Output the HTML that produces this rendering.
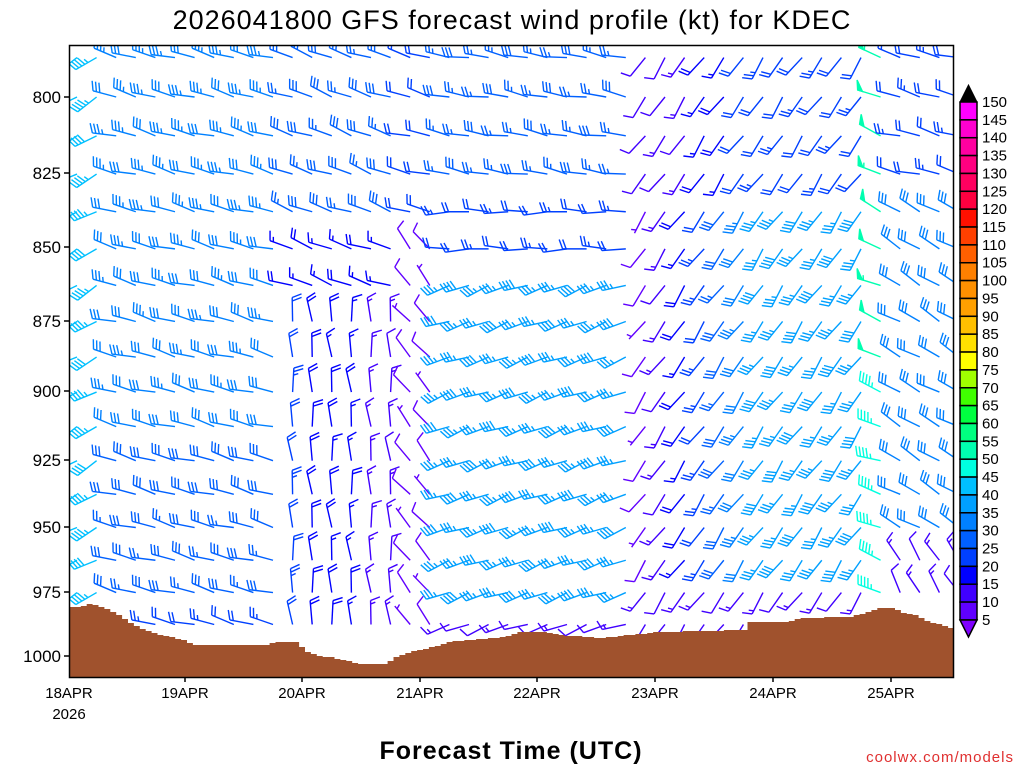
<!DOCTYPE html>
<html><head><meta charset="utf-8"><style>
html,body{margin:0;padding:0;background:#fff;}
svg{display:block;font-family:"Liberation Sans",sans-serif;}
</style></head><body>
<svg id="s" width="1024" height="768" viewBox="0 0 1024 768" xmlns="http://www.w3.org/2000/svg">
<defs><clipPath id="cl"><rect x="69" y="45" width="884" height="632"/></clipPath></defs>
<rect width="1024" height="768" fill="#fff"/>
<text x="512" y="29" font-size="27" text-anchor="middle" fill="#000" letter-spacing="1">2026041800 GFS forecast wind profile (kt) for KDEC</text>
<g id="plot" clip-path="url(#cl)"></g>
<g id="terrain"></g>
<rect x="69.5" y="45.5" width="884" height="632" fill="none" stroke="#000" stroke-width="1.5"/>
<g font-size="17" text-anchor="end" fill="#000">
<text x="61" y="103">800</text><text x="61" y="179">825</text><text x="61" y="253">850</text>
<text x="61" y="327">875</text><text x="61" y="397">900</text><text x="61" y="466">925</text>
<text x="61" y="533">950</text><text x="61" y="598">975</text><text x="61" y="662">1000</text>
</g>
<g stroke="#000" stroke-width="1.5">
<line x1="64" y1="97" x2="69" y2="97"/><line x1="64" y1="173" x2="69" y2="173"/><line x1="64" y1="247" x2="69" y2="247"/>
<line x1="64" y1="321" x2="69" y2="321"/><line x1="64" y1="391" x2="69" y2="391"/><line x1="64" y1="460" x2="69" y2="460"/>
<line x1="64" y1="527" x2="69" y2="527"/><line x1="64" y1="592" x2="69" y2="592"/><line x1="64" y1="656" x2="69" y2="656"/>
<line x1="185" y1="677" x2="185" y2="682"/><line x1="302" y1="677" x2="302" y2="682"/><line x1="420" y1="677" x2="420" y2="682"/>
<line x1="537" y1="677" x2="537" y2="682"/><line x1="655" y1="677" x2="655" y2="682"/><line x1="773" y1="677" x2="773" y2="682"/><line x1="891" y1="677" x2="891" y2="682"/>
</g>
<g font-size="15" text-anchor="middle" fill="#000">
<text x="69" y="698">18APR</text><text x="69" y="719">2026</text>
<text x="185" y="698">19APR</text><text x="302" y="698">20APR</text><text x="420" y="698">21APR</text>
<text x="537" y="698">22APR</text><text x="655" y="698">23APR</text><text x="773" y="698">24APR</text><text x="891" y="698">25APR</text>
</g>
<text x="511" y="759" font-size="25" text-anchor="middle" font-weight="bold" letter-spacing="1">Forecast Time (UTC)</text>
<text x="1014" y="762" font-size="15" text-anchor="end" fill="#e03030" letter-spacing="1">coolwx.com/models</text>
<g id="cbar"></g>
</svg>
<script>
(function(){
var NS="http://www.w3.org/2000/svg";
function el(p,t,a){var e=document.createElementNS(NS,t);for(var k in a)e.setAttribute(k,a[k]);p.appendChild(e);return e;}
var cols=["#8000ff","#6000ff","#4000ff","#0000ff","#0040ff","#0060ff","#0080ff","#00a0ff","#00c0ff","#00ffe0","#00ffb0","#00ff80","#00ff40","#40ff00","#a0ff00","#ffff00","#ffe000","#ffc000","#ffa000","#ff9000","#ff8000","#ff6000","#ff4000","#ff1000","#ff0040","#ff0060","#ff0080","#ff00a0","#ff00d0","#ff00ff"];
var cb=document.getElementById("cbar");
var y0=102,h=17.86,i;
for(i=0;i<29;i++){el(cb,"rect",{x:960,y:y0+i*h,width:17,height:h,fill:cols[29-i],stroke:"#000","stroke-width":1.5});}
el(cb,"polygon",{points:"960,102 977,102 968.5,85",fill:"#000",stroke:"#000"});
el(cb,"polygon",{points:"960,620 977,620 968.5,637",fill:cols[0],stroke:"#000","stroke-width":1.5});
for(i=0;i<30;i++){var tt=el(cb,"text",{x:982,y:y0+i*h+5,"font-size":"15",fill:"#000"});tt.textContent=String(150-5*i);}
function colorFor(s){var k=Math.floor(s/5);if(k<0)k=0;if(k>29)k=29;return cols[k];}
function yOf(p){return 97+Math.log(p/800)/Math.log(1000/800)*559;}
var tk=[[69,607],[88,606],[92,602],[97,606],[110,610],[120,615],[130,622],[145,630],[160,635],[185,640],[195,645],[270,645],[275,642],[298,642],[305,650],[315,655],[335,658],[345,660],[360,664],[385,664],[395,658],[410,652],[430,648],[450,642],[470,640],[505,637],[520,632],[545,632],[560,635],[600,638],[640,634],[660,632],[745,630],[750,622],[790,622],[800,618],[850,617],[870,612],[880,608],[895,608],[900,612],[915,615],[930,622],[945,626],[953,628]];
function sy(x){for(var i=0;i<tk.length-1;i++){if(x>=tk[i][0]&&x<=tk[i+1][0]){var f=(x-tk[i][0])/(tk[i+1][0]-tk[i][0]);return tk[i][1]+f*(tk[i+1][1]-tk[i][1]);}}return tk[tk.length-1][1];}
var tr=document.getElementById("terrain");var pts="69,677 ";
for(var x=69;x<953;x+=5.9){var yy=Math.round(sy(x+3));pts+=x.toFixed(1)+","+yy+" "+Math.min(x+5.9,953).toFixed(1)+","+yy+" ";}
pts+="953,677";el(tr,"polygon",{points:pts,fill:"#a0522d"});
function field(t,p){
 var d,s;
 if(t<1.8){d=285;s=34-(p-790)/200*6;if(t<0.3){d=240;s=44;} if(p>975)s=22;}
 else if(t<2.7){ if(p>870){d=355;s=22-(t-1.8)*10;} else {d=290;s=p<840?28:16;} }
 else if(t<3.1){ d=320;s=8; if(p<840){d=285;s=20;} }
 else if(t<4.8){ if(p>860){d=250;s=36;} else if(p>830){d=270;s=22;} else {d=280;s=26;} if(p>975){d=250;s=12;} }
 else if(t<6.75){ var f=Math.min(1,(t-4.8)/1.0); if(p<830){d=215;s=10+f*12;} else {d=215;s=8+f*28;} if(p>970)s=14;}
 else if(t<6.95){ if(p<900){d=295;s=52;} else {d=290;s=45;} }
 else { if(p<830){d=285;s=22;} else if(p<960){d=300;s=30;} else {d=330;s=14;} }
 return [d,s];
}
var pl=document.getElementById("plot");
function barb(x,y,dir,spd,c){
 var r=dir*Math.PI/180,dx=Math.sin(r),dy=-Math.cos(r),L=24;
 var a=70*Math.PI/180,fx=dx*Math.cos(a)-dy*Math.sin(a),fy=dx*Math.sin(a)+dy*Math.cos(a);
 var ex=x+dx*L,ey=y+dy*L;
 var g=el(pl,"g",{stroke:c,"stroke-width":1.4,fill:c});
 el(g,"line",{x1:x,y1:y,x2:ex,y2:ey});
 var s=Math.round(spd/5)*5,px=ex,py=ey;
 while(s>=50){el(g,"polygon",{points:px+","+py+" "+(px+fx*10)+","+(py+fy*10)+" "+(px-dx*5)+","+(py-dy*5)});px-=dx*6;py-=dy*6;s-=50;}
 while(s>=10){el(g,"line",{x1:px,y1:py,x2:px+fx*10,y2:py+fy*10});px-=dx*3.5;py-=dy*3.5;s-=10;}
 if(s>=5){if(px===ex&&py===ey){px-=dx*3.5;py-=dy*3.5;}el(g,"line",{x1:px,y1:py,x2:px+fx*5,y2:py+fy*5});}
}
for(var k=0;k<46;k++){var xx=69+k*19.6,t=(xx-69)/117.5,sp=sy(xx);
 for(var j=0;j<17;j++){var p=787.5+12.5*j,y=yOf(p);if(y>sp-4)continue;
  var w=field(t,p);var jit=((k*7+j*3)%5-2)*4;
  barb(xx+8,y,w[0]+jit,w[1]+((k+j)%3-1)*2,colorFor(w[1]));}}
})();
</script>
</body></html>
